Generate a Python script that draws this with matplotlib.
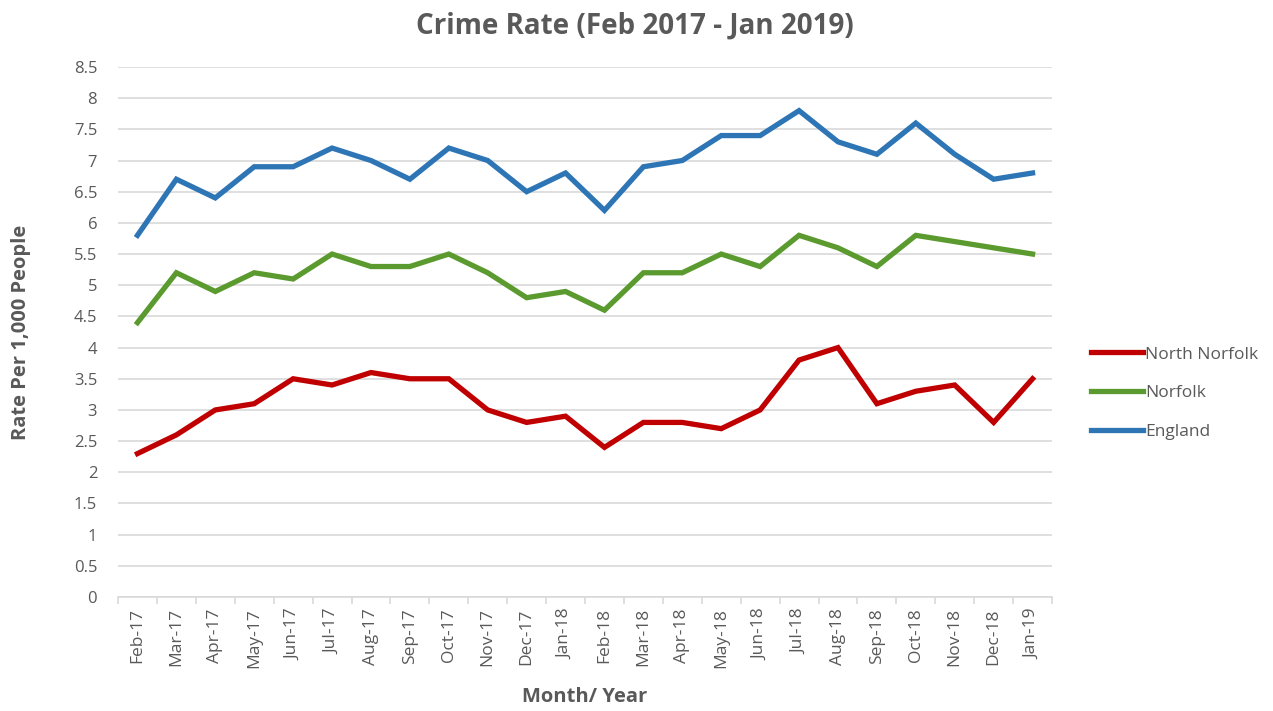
import matplotlib
matplotlib.use("Agg")
import matplotlib.pyplot as plt

plt.rcParams['font.family'] = ['Open Sans', 'DejaVu Sans']

months = ["Feb-17", "Mar-17", "Apr-17", "May-17", "Jun-17", "Jul-17", "Aug-17", "Sep-17",
          "Oct-17", "Nov-17", "Dec-17", "Jan-18", "Feb-18", "Mar-18", "Apr-18", "May-18",
          "Jun-18", "Jul-18", "Aug-18", "Sep-18", "Oct-18", "Nov-18", "Dec-18", "Jan-19"]

north_norfolk = [2.3, 2.6, 3.0, 3.1, 3.5, 3.4, 3.6, 3.5, 3.5, 3.0, 2.8, 2.9,
                 2.4, 2.8, 2.8, 2.7, 3.0, 3.8, 4.0, 3.1, 3.3, 3.4, 2.8, 3.5]
norfolk = [4.4, 5.2, 4.9, 5.2, 5.1, 5.5, 5.3, 5.3, 5.5, 5.2, 4.8, 4.9,
           4.6, 5.2, 5.2, 5.5, 5.3, 5.8, 5.6, 5.3, 5.8, 5.7, 5.6, 5.5]
england = [5.8, 6.7, 6.4, 6.9, 6.9, 7.2, 7.0, 6.7, 7.2, 7.0, 6.5, 6.8,
           6.2, 6.9, 7.0, 7.4, 7.4, 7.8, 7.3, 7.1, 7.6, 7.1, 6.7, 6.8]

y_ticks = [0, 0.5, 1, 1.5, 2, 2.5, 3, 3.5, 4, 4.5, 5, 5.5, 6, 6.5, 7, 7.5, 8, 8.5]

text_col = "#595959"

fig = plt.figure(figsize=(12.73, 7.11), dpi=100)
ax = fig.add_axes([0.0927, 0.1603, 0.7337, 0.7455])

x = list(range(len(months)))
ax.plot(x, north_norfolk, color="#C00000", lw=3.8, label="North Norfolk", solid_joinstyle="miter")
ax.plot(x, norfolk, color="#5A9A2E", lw=3.8, label="Norfolk", solid_joinstyle="miter")
ax.plot(x, england, color="#2E75B6", lw=3.8, label="England", solid_joinstyle="miter")

ax.set_xlim(-0.5, len(months) - 0.5)
ax.set_ylim(0, 8.5)
ax.set_yticks(y_ticks)
ax.set_yticklabels([f"{v:g}" for v in y_ticks], color=text_col, fontsize=12)
ax.set_xticks(x)
ax.set_xticklabels(months, rotation=90, color=text_col, fontsize=12.5)
ax.set_xticks([i - 0.5 for i in range(len(months) + 1)], minor=True)

ax.grid(axis="y", color="#D9D9D9", lw=1.2)
ax.set_axisbelow(True)
for s in ["top", "right", "left"]:
    ax.spines[s].set_visible(False)
ax.spines["bottom"].set_color("#D9D9D9")
ax.spines["bottom"].set_linewidth(1.2)
ax.tick_params(axis="y", length=0, pad=15)
ax.tick_params(axis="x", which="major", length=0, pad=8)
ax.tick_params(axis="x", which="minor", length=5, color="#D9D9D9", width=1.2)

ax.set_title("Crime Rate (Feb 2017 - Jan 2019)", fontsize=20, fontweight="bold",
             color=text_col, pad=24, x=0.553)
ax.set_xlabel("Month/ Year", fontsize=14.5, fontweight="bold", color=text_col, labelpad=14)
ax.set_ylabel("Rate Per 1,000 People", fontsize=14.5, fontweight="bold", color=text_col, labelpad=31)

handles, labels = ax.get_legend_handles_labels()
leg = fig.legend(handles, labels, loc="center left", bbox_to_anchor=(0.845, 0.447),
                 frameon=False, fontsize=12.5, handlelength=3.0, handletextpad=0.1,
                 labelspacing=1.3, labelcolor=text_col)

fig.savefig("out.png", dpi=100, facecolor="white")
